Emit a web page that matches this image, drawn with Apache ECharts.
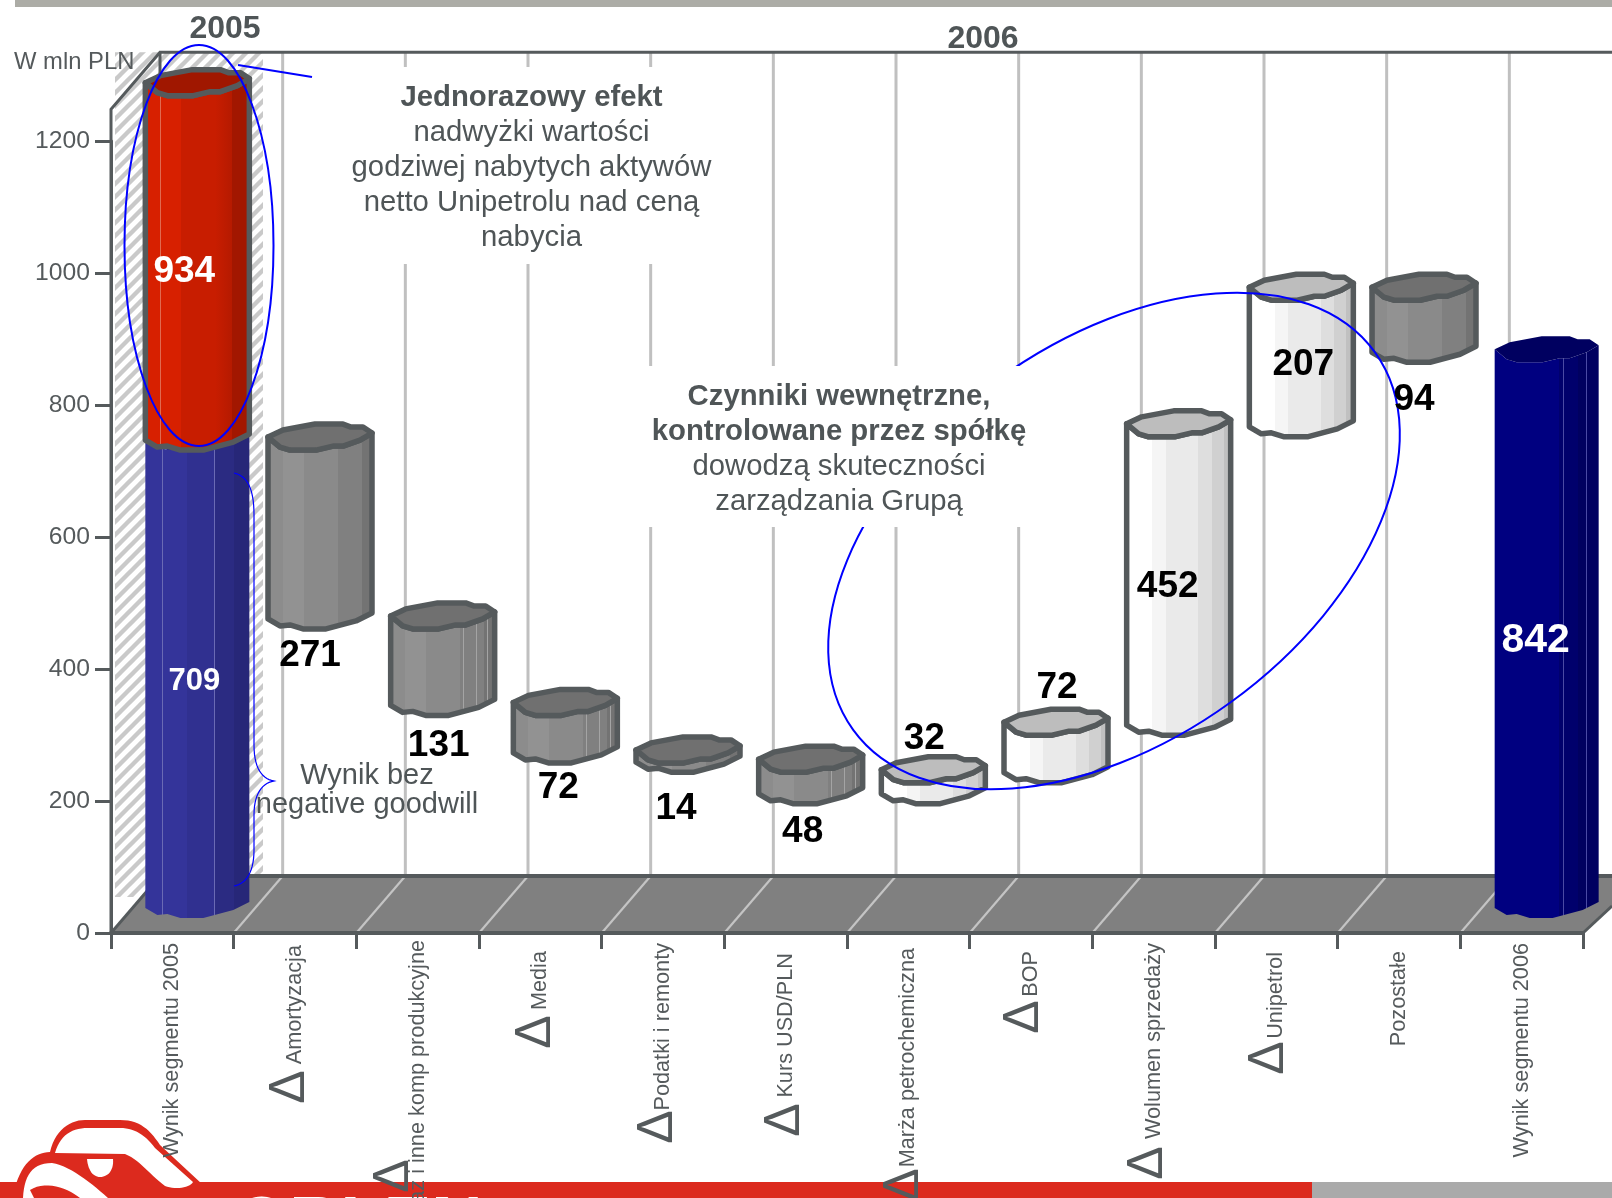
<!DOCTYPE html>
<html>
<head>
<meta charset="utf-8">
<style>html,body{margin:0;padding:0;background:#fff}#c{width:1612px;height:1198px}</style>
<script src="https://cdn.jsdelivr.net/npm/echarts@6/dist/echarts.min.js"></script>
</head>
<body>
<div id="c"></div>
<script>
// ---- data ----
const categories = ['Wynik segmentu 2005','Amortyzacja','Gaz i inne komp produkcyjne','Media','Podatki i remonty','Kurs USD/PLN','Marża petrochemiczna','BOP','Wolumen sprzedaży','Unipetrol','Pozostałe','Wynik segmentu 2006'];
const valueTicks = [0,200,400,600,800,1000,1200];
const segmentCategory = [0,0,1,2,3,4,5,6,7,8,9,10,11];
const segmentFrom = [0,709,438,307,235,221,173,173,205,277,729,842,0];
const segmentTo   = [709,1246,709,438,307,235,221,205,277,729,936,936,842];
const segmentKind = ['blue','red','dark','dark','dark','dark','dark','light','light','light','light','dark','navy'];
const segmentLabel = ['709','934','271','131','72','14','48','32','72','452','207','94','842'];
const deltaCategories = [1,2,3,4,5,6,7,8,9];
const yearLabels = ['2005','2006'];
const unitLabel = 'W mln PLN';

// ---- style and layout ----
const INK = '#555a5c', BLUE = '#0000ff', FONT = '"Liberation Sans", Arial, sans-serif';
const W = 1612, AXIS_TOP_VALUE = 1248;
const DEPTH_X = 49, DEPTH_Y = 57;           // floor depth of the 3D box
const BAR_DX = 25, BAR_DY = -15;            // bars stand inside the floor
const LABEL_NUDGE = 1, DELTA_NUDGE = 3.5;
const labelPad = [3,5,0,11,3,13,8,11,3,12,11,3];
const deltaOffset = [[-8,154],[-27,243],[-7.5,99],[-8,194],[-4,187],[-7.5,252],[-10,84],[-9,230],[-10.5,125]];
// anchor: which value the label hangs from, then pixel offset
const labelPlace = [
  {a:'mid',dx:-3,dy:-4,size:31,fill:'#fff'},{a:'mid',dx:-13,dy:-2,size:37,fill:'#fff'},
  {a:'from',dx:-10,dy:26,size:37},{a:'from',dx:-4,dy:29,size:37},{a:'from',dx:-7,dy:24,size:37},
  {a:'from',dx:-12,dy:36,size:37},{a:'from',dx:-8,dy:27,size:37},
  {a:'to',dx:-9,dy:-45,size:37},{a:'to',dx:1,dy:-48,size:37},{a:'mid',dx:-11,dy:0,size:37},
  {a:'mid',dx:2,dy:-5,size:37},{a:'from',dx:-10,dy:37,size:37},{a:'mid',dx:-11,dy:0,size:41,fill:'#fff'}
];
function colorAt(st,p){for(let i=0;i<st.length;i+=2){if(p>=st[i].offset&&p<=st[i+1].offset)return st[i].color;}return st[st.length-1].color;}
function facets(bounds, colors, lines, lineColor){
  const st=[]; let prev=0;
  colors.forEach((c,i)=>{const e=i<bounds.length?bounds[i]:1; st.push({offset:prev,color:c},{offset:e,color:c}); prev=e;});
  const out=st.slice();
  (lines||[]).forEach(p=>{
    const c0=colorAt(st,p);
    out.push({offset:p-0.002,color:c0},{offset:p-0.002,color:lineColor},{offset:p+0.004,color:lineColor},{offset:p+0.004,color:c0});
  });
  out.sort((a,b)=>a.offset-b.offset);
  return {type:'linear',x:0,y:0,x2:1,y2:0,colorStops:out};
}
const kinds = {
  light:{body:facets([.26,.38,.68,.80,.91],['#ffffff','#f5f5f5','#eaeaea','#dedede','#d0d0d0','#c0c0c0']),cap:'#bdbdbd',stroke:INK},
  dark:{body:facets([.05,.16,.35,.66,.88],['#7c7c7c','#8c8c8c','#929292','#8a8a8a','#808080','#737373'],[.69,.81,.91],'#a4a4a4'),cap:'#707070',stroke:INK},
  red:{body:facets([.35,.66,.82],['#d72000','#c81d00','#b51a00','#a21700'],[.16,.66,.88],'#e06a50'),cap:'#a01700',stroke:INK},
  blue:{body:facets([.4,.66,.85],['#34349a','#303090','#2b2b82','#272778'],[.165,.665,.88],'#6a6ab4'),cap:'#2b2b82',stroke:null},
  navy:{body:facets([.62,.8],['#000080','#00006c','#000060'],[.165,.66,.77,.88],'#4a4aa4'),cap:'#000060',stroke:null}
};
// traced outline of one irregular cylinder, px around the bar centre
const TOP_UPPER=[[-52,-13],[-37,-20],[-5,-26],[23,-26],[31,-23],[43,-23],[52,-17]];
const TOP_LOWER=[[52,-17],[40,-10],[23,-4],[13,-4],[-4,0],[-30,0],[-40,-3],[-52,-13]];
const BOTTOM=[[-52,-10],[-40,-3],[-30,-4],[-17,0],[6,0],[36,-8],[52,-16]];

function hatch(){
  const c=document.createElement('canvas');c.width=c.height=13;const g=c.getContext('2d');
  g.fillStyle='#fff';g.fillRect(0,0,13,13);g.strokeStyle='#c9c9c9';g.lineWidth=4.4;
  [[-13,13,13,-13],[0,13,13,0],[0,26,26,0]].forEach(l=>{g.beginPath();g.moveTo(l[0],l[1]);g.lineTo(l[2],l[3]);g.stroke();});
  return c;
}
const hatchCanvas=hatch();

// outline helper: M / L / C path string to sampled points
function outline(d){
  const t=d.match(/[MLCZ]|-?[\d.]+/g); const pts=[]; let i=0,cur=null,cmd=null;
  const num=()=>parseFloat(t[i++]);
  while(i<t.length){
    if(/[MLCZ]/.test(t[i])){cmd=t[i++]; if(cmd==='Z')continue;}
    if(cmd==='C'){
      const a=[num(),num()],b=[num(),num()],e=[num(),num()];
      for(let k=1;k<=14;k++){const u=k/14,v=1-u;
        pts.push([v*v*v*cur[0]+3*v*v*u*a[0]+3*v*u*u*b[0]+u*u*u*e[0],v*v*v*cur[1]+3*v*v*u*a[1]+3*v*u*u*b[1]+u*u*u*e[1]]);}
      cur=e;
    } else {cur=[num(),num()];pts.push(cur);}
  }
  return pts;
}
const shapeFill=(d,fill)=>({type:'polygon',z:0,shape:{points:outline(d)},style:{fill}});

function renderBackdrop(params,api){
  const band=api.size([1,0])[0];
  const o=api.coord([0,0]); const x0=o[0]-band/2, y0=o[1];
  const xEnd=x0+band*categories.length;
  const yTop=api.coord([0,AXIS_TOP_VALUE])[1];
  const ln=(a,b,c,d,color,w)=>({type:'line',shape:{x1:a,y1:b,x2:c,y2:d},style:{stroke:color,lineWidth:w,lineCap:'butt'}});
  const kids=[];
  kids.push({type:'rect',shape:{x:x0+4,y:yTop-DEPTH_Y,width:148,height:y0-36-(yTop-DEPTH_Y)},style:{fill:{image:hatchCanvas,repeat:'repeat'}}});
  for(let i=1;i<categories.length;i++){
    const x=x0+band*i;
    kids.push(ln(x+DEPTH_X,yTop-DEPTH_Y,x+DEPTH_X,y0-DEPTH_Y,'#c0c0c0',3));
  }
  kids.push({type:'polygon',shape:{points:[[x0,y0],[x0+DEPTH_X,y0-DEPTH_Y],[W,y0-DEPTH_Y],[W,y0-27],[xEnd,y0]]},style:{fill:'#808080'}});
  for(let i=1;i<categories.length;i++){
    const x=x0+band*i;
    kids.push(ln(x,y0,x+DEPTH_X,y0-DEPTH_Y,'#c4c4c4',2.2));
  }
  kids.push(ln(x0+DEPTH_X-2,y0-DEPTH_Y,W,y0-DEPTH_Y,INK,4));
  kids.push(ln(x0,y0,x0+DEPTH_X,y0-DEPTH_Y,INK,3));
  kids.push(ln(xEnd,y0,W,y0-27,INK,3));
  // value axis carried up to the box edge, back edge of the box
  kids.push({type:'polyline',shape:{points:[[x0,y0],[x0,yTop],[x0+DEPTH_X,yTop-DEPTH_Y],[W,yTop-DEPTH_Y]]},style:{stroke:INK,lineWidth:3,fill:null,lineJoin:'miter'}});
  kids.push(ln(x0+DEPTH_X,yTop-DEPTH_Y,x0+DEPTH_X,yTop-DEPTH_Y+40,INK,3));
  return {type:'group',children:kids};
}
function renderBar(params,api){
  const i=params.dataIndex, k=kinds[segmentKind[i]];
  const c=api.value(0), a=api.coord([c,api.value(1)]), b=api.coord([c,api.value(2)]);
  const cx=a[0]+BAR_DX, yb=a[1]+BAR_DY, yt=b[1]+BAR_DY;
  const top=p=>[cx+p[0],yt+p[1]], bot=p=>[cx+p[0],yb+p[1]];
  const bodyPts=TOP_LOWER.slice().reverse().map(top).concat(BOTTOM.slice().reverse().map(bot));
  const capPts=TOP_UPPER.map(top).concat(TOP_LOWER.map(top));
  const sw=k.stroke?{stroke:k.stroke,lineWidth:5.5,lineJoin:'round'}:{};
  return {type:'group',children:[
    {type:'polygon',shape:{points:bodyPts},style:Object.assign({fill:k.body},sw)},
    {type:'polygon',shape:{points:capPts},style:Object.assign({fill:k.cap},sw)}
  ]};
}
function renderLabel(params,api){
  const i=params.dataIndex,p=labelPlace[i];
  const c=api.value(0),f=api.value(1),t=api.value(2);
  const v=p.a==='mid'?(f+t)/2:(p.a==='from'?f:t);
  const q=api.coord([c,v]);
  return {type:'text',style:{x:q[0]+BAR_DX+p.dx,y:q[1]+BAR_DY+p.dy+LABEL_NUDGE,text:segmentLabel[i],fill:p.fill||'#000',font:'bold '+p.size+'px '+FONT,textAlign:'center',textVerticalAlign:'middle'}};
}
function renderDelta(params,api){
  const i=params.dataIndex,q=api.coord([api.value(0),0]),o=deltaOffset[i];
  return {type:'text',x:q[0]+o[0]+DELTA_NUDGE,y:q[1]+o[1],rotation:Math.PI/2,style:{x:0,y:0,text:'Δ',fill:INK,font:'50px '+FONT,textAlign:'center',textVerticalAlign:'middle'}};
}
const rich={};
labelPad.forEach(p=>{rich['p'+p]={padding:[0,p,0,0],fontSize:21.7,fontFamily:FONT,color:INK};});

const segRows=segmentCategory.map((c,i)=>[c,segmentFrom[i],segmentTo[i]]);
const deltaRows=deltaCategories.map(c=>[c,0]);
const txt=(x,y,text,font)=>({type:'text',z:9,style:{x,y,text,fill:'#4f5557',font:font,textAlign:'center',textVerticalAlign:'middle'}});
const block=(x,y,lines)=>lines.map((l,i)=>txt(x,y+i*35,l[0],(l[1]?'bold ':'')+'29.3px '+FONT));

const chart=echarts.init(document.getElementById('c'),null,{renderer:'canvas',width:1612,height:1198});
chart.setOption({
  animation:false,backgroundColor:'#fff',tooltip:{show:false},legend:{show:false},
  grid:{left:111,right:29,top:141,bottom:265,containLabel:false,outerBoundsMode:'none'},
  xAxis:{type:'category',data:categories,z:4,
    axisLine:{show:true,lineStyle:{color:INK,width:4}},
    axisTick:{show:true,alignWithLabel:false,length:16,lineStyle:{color:INK,width:3}},
    splitLine:{show:false},
    axisLabel:{interval:0,rotate:90,margin:7,hideOverlap:false,rich:rich,
      formatter:(v,i)=>'{p'+labelPad[i]+'|'+v+'}'}},
  yAxis:{type:'value',min:valueTicks[0],max:valueTicks[valueTicks.length-1],interval:valueTicks[1],z:4,
    axisLine:{show:true,lineStyle:{color:INK,width:3}},
    axisTick:{show:true,length:16,lineStyle:{color:INK,width:3}},
    splitLine:{show:false},
    axisLabel:{margin:21,fontSize:24.7,fontFamily:FONT,color:INK,formatter:v=>String(v)}},
  series:[
    {type:'custom',name:'backdrop',z:1,silent:true,clip:false,data:[[0,0]],encode:{x:0,y:1},renderItem:renderBackdrop},
    {type:'custom',name:'bars',z:5,silent:true,clip:false,data:segRows,encode:{x:0,y:[1,2]},renderItem:renderBar},
    {type:'custom',name:'labels',z:8,silent:true,clip:false,data:segRows,encode:{x:0,y:[1,2]},renderItem:renderLabel},
    {type:'custom',name:'delta',z:8,silent:true,clip:false,data:deltaRows,encode:{x:0,y:1},renderItem:renderDelta}
  ],
  graphic:{elements:[
    // slide furniture
    {type:'rect',z:0,shape:{x:15,y:0,width:1597,height:7},style:{fill:'#acaca6'}},
    {type:'rect',z:0,shape:{x:0,y:1182,width:1312,height:16},style:{fill:'#dc2a1e'}},
    {type:'rect',z:0,shape:{x:1312,y:1182,width:300,height:16},style:{fill:'#aaaaaa'}},
    shapeFill('M16,1184 C24,1160 36,1153 50,1152 C55,1130 70,1120 85,1120 L120,1120 C140,1120 150,1130 160,1145 L202,1184 Z','#dc2a1e'),
    shapeFill('M55,1153 C60,1135 72,1128 88,1128 L120,1128 C135,1128 145,1135 155,1148 L193,1182 C190,1188 175,1190 165,1186 C150,1175 140,1160 125,1154 Z','#fff'),
    shapeFill('M87,1159 L113,1159 C114,1170 108,1177 100,1177 C93,1177 88,1170 87,1159 Z','#fff'),
    shapeFill('M23,1198 C24,1176 32,1163 52,1163 C70,1166 90,1182 108,1198 L80,1198 C68,1188 45,1180 30,1190 L34,1198 Z','#fff'),
    {type:'text',z:0,style:{x:234,y:1191,text:'ORLEN',fill:'#fff',font:'bold 71px '+FONT,textAlign:'left',textVerticalAlign:'top'}},
    // titles
    txt(225,29,yearLabels[0],'bold 32px '+FONT),
    txt(983,39,yearLabels[1],'bold 32px '+FONT),
    {type:'text',z:9,style:{x:14,y:62,text:unitLabel,fill:INK,font:'23.8px '+FONT,textAlign:'left',textVerticalAlign:'middle'}},
    // hand-drawn blue annotations
    {type:'ellipse',z:6,shape:{cx:199,cy:245.5,rx:74.5,ry:200.5},style:{fill:null,stroke:BLUE,lineWidth:2}},
    {type:'line',z:6,shape:{x1:238,y1:65,x2:312,y2:77},style:{stroke:BLUE,lineWidth:2}},
    {type:'ellipse',z:6,x:1114,y:541,rotation:35.9*Math.PI/180,shape:{cx:0,cy:0,rx:322,ry:199},style:{fill:null,stroke:BLUE,lineWidth:2}},
    {type:'polyline',z:6,shape:{points:outline('M234,473 C248,476 254,490 254,515 L254,745 C254,768 262,779 274,781 C262,783 254,794 254,815 L254,850 C254,872 246,884 234,886')},style:{fill:null,stroke:BLUE,lineWidth:1.2}},
    // white boxes that interrupt the grid
    {type:'rect',z:7,shape:{x:340,y:67,width:390,height:197},style:{fill:'#fff'}},
    {type:'rect',z:7,shape:{x:640,y:366,width:386,height:161},style:{fill:'#fff'}}
  ].concat(block(531.5,98,[['Jednorazowy efekt',1],['nadwyżki wartości'],['godziwej nabytych aktywów'],['netto Unipetrolu nad ceną'],['nabycia']]))
   .concat(block(839,397,[['Czynniki wewnętrzne,',1],['kontrolowane przez spółkę',1],['dowodzą skuteczności'],['zarządzania Grupą']]))
   .concat([txt(367,776,'Wynik bez','29px '+FONT),txt(367,805,'negative goodwill','29px '+FONT)])}
});
</script>
</body>
</html>
